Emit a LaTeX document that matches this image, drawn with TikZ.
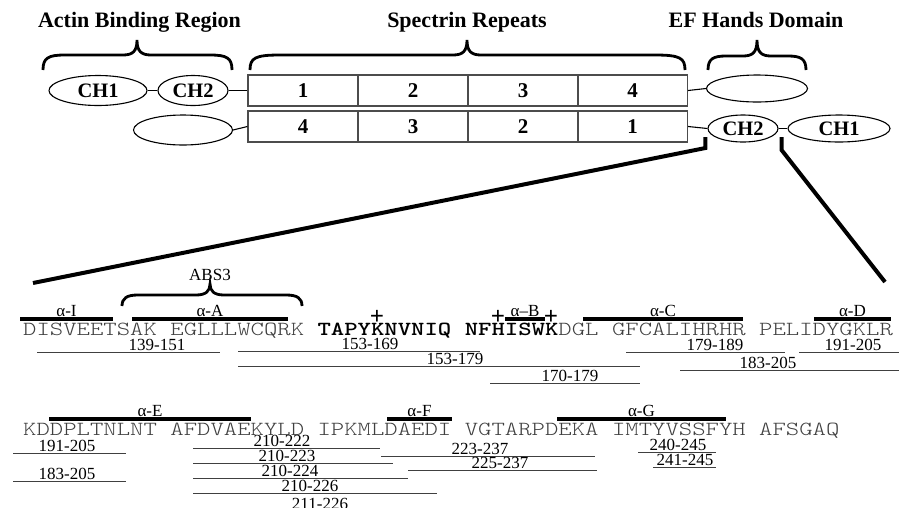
\documentclass[tikz,border=0pt]{standalone}
\usepackage{fontspec}
\setmainfont{Liberation Serif}
\newfontfamily\seqfont{lmmonolt10-regular.otf}[FakeStretch=1.274]
\newfontfamily\seqbold{lmmonolt10-bold.otf}[FakeStretch=1.274]
\usetikzlibrary{shapes.geometric}

% curly brace: x-left, x-right, x-tip, y-ends, y-run, y-tip, corner length
\newcommand{\curlybrace}[7]{%
  \draw[bracestroke] (#1,#4) .. controls (#1,{#5+3}) and ({#1+5},#5) .. ({#1+#7},#5)
    -- ({#3-14},#5) .. controls ({#3-4},#5) and (#3,{#5-4}) .. (#3,#6)
    .. controls (#3,{#5-4}) and ({#3+4},#5) .. ({#3+14},#5)
    -- ({#2-#7},#5) .. controls ({#2-5},#5) and (#2,{#5+3}) .. (#2,#4);}
% helix bar with its label: x-left, x-right, y, name, label
\newcommand{\helixbar}[5]{%
  \draw[helix] (#1,#3) -- (#2,#3);
  \node[helixlabel] (#4) at ({(#1+#2)/2},{#3-3}) {#5};}
% peptide fragment: x-left, x-right, y, x-label, name, label
\newcommand{\fragbar}[6]{%
  \draw[frag] (#1,#3) -- (#2,#3);
  \node[fraglabel] (#5) at (#4,{#3-2}) {#6};}

\tikzset{
  header/.style={font=\fontsize{22}{24}\selectfont\bfseries, inner sep=0, anchor=base},
  repeatbox/.style={draw=black!70, line width=1.2pt, minimum width=110pt,
    minimum height=31pt, inner sep=0, font=\fontsize{21}{22}\selectfont\bfseries},
  dom/.style={ellipse, draw, line width=1.1pt, inner sep=0,
    font=\fontsize{20.5}{22}\selectfont\bfseries},
  link/.style={line width=1.1pt},
  zoomline/.style={line width=4pt},
  bracestroke/.style={line width=2.8pt},
  helix/.style={line width=4pt},
  helixlabel/.style={font=\fontsize{17}{18}\selectfont, inner sep=0, anchor=base},
  frag/.style={line width=0.9pt, draw=black!75},
  fraglabel/.style={font=\fontsize{17}{18}\selectfont, inner sep=0, anchor=base},
  seq/.style={font=\seqfont\fontsize{20}{22}\selectfont, text=black!75,
    inner sep=0, anchor=base west},
  plus/.style={font=\fontsize{25}{25}\selectfont\bfseries, inner sep=0},
}

\begin{document}
\begin{tikzpicture}[x=1pt, y=-1pt]
\useasboundingbox (0,0) rectangle (899,507);

% ---- domain headers and braces
\node[header] (hab) at (139.5,27) {Actin Binding Region};
\node[header] (hsr) at (467,27) {Spectrin Repeats};
\node[header] (hef) at (756,27) {EF Hands Domain};
\curlybrace{43}{232}{137}{70}{55}{40}{22}
\curlybrace{250}{685}{467}{70}{55}{40}{30}
\curlybrace{708}{806}{757}{70}{56}{40}{18}

% ---- upper chain
\node[dom, minimum width=98pt, minimum height=30pt] (ch1a) at (98,90.5) {CH1};
\node[dom, minimum width=70pt, minimum height=30pt] (ch2a) at (193,90.5) {CH2};
\node[repeatbox] (r1a) at (303,90.5) {1};
\node[repeatbox] (r1b) at (413,90.5) {2};
\node[repeatbox] (r1c) at (523,90.5) {3};
\node[repeatbox] (r1d) at (632.5,90.5) {4};
\node[dom, minimum width=101pt, minimum height=27pt] (efa) at (757,88.5) {};

% ---- lower chain
\node[dom, minimum width=99pt, minimum height=30pt] (efb) at (183,130) {};
\node[repeatbox] (r2a) at (303,126.5) {4};
\node[repeatbox] (r2b) at (413,126.5) {3};
\node[repeatbox] (r2c) at (523,126.5) {2};
\node[repeatbox] (r2d) at (632.5,126.5) {1};
\node[dom, minimum width=70pt, minimum height=27pt] (ch2b) at (743,128.5) {CH2};
\node[dom, minimum width=102pt, minimum height=27pt] (ch1b) at (839,128.5) {CH1};

\draw[link] (ch1a) -- (ch2a);
\draw[link] (ch2a) -- (r1a);
\draw[link] (r1d.east) -- (efa.west);
\draw[link] (efb.east) -- (r2a.west);
\draw[link] (r2d.east) -- (ch2b.west);
\draw[link] (ch2b) -- (ch1b);

% ---- expansion lines down to the sequence
\coordinate (zl) at (33,283);
\coordinate (zr) at (885,282);
\draw[zoomline] (ch2b.west) ++(-2,8.5) -- ++(0,11) -- (zl);
\draw[zoomline] (ch2b.east) ++(3,8.5) -- ++(0,13) -- (zr);

% ---- sequence, first line
\node[seq] (s1a) at (23,335) {DISVEETSAK};
\node[seq] (s1b) at (170.2,335) {EGLLLWCQRK};
\node[seq, text=black] (s1c) at (317.4,335) {\seqbold TAPYKNVNIQ};
\node[seq] (s1d) at (464.6,335) {{\seqbold\color{black}NFHISWK}DGL};
\node[seq] (s1e) at (611.8,335) {GFCALIHRHR};
\node[seq] (s1f) at (759,335) {PELIDYGKLR};

% ABS3 brace
\curlybrace{122}{302}{210}{306}{295}{284}{16}
\node[fraglabel] (abs3) at (210,280.5) {ABS3};

\helixbar{20}{113}{319}{hI}{α-I}
\helixbar{132}{288}{319}{hA}{α-A}
\helixbar{505}{545}{319}{hB}{α–B}
\helixbar{583}{743}{319}{hC}{α-C}
\helixbar{814}{891}{319}{hD}{α-D}
\node[plus] (pl1) at (377,317) {+};
\node[plus] (pl2) at (498,317) {+};
\node[plus] (pl3) at (551,317) {+};

\fragbar{37}{220}{352.5}{157}{f1}{139-151}
\fragbar{238}{480}{351}{370}{f2}{153-169}
\fragbar{238}{640}{366}{455}{f3}{153-179}
\fragbar{490}{640}{383}{570}{f4}{170-179}
\fragbar{626}{785}{352}{715}{f5}{179-189}
\fragbar{799}{899}{352}{853}{f6}{191-205}
\fragbar{680}{899}{370.5}{768}{f7}{183-205}

% ---- sequence, second line
\node[seq] (s2a) at (23,435) {KDDPLTNLNT};
\node[seq] (s2b) at (170.2,435) {AFDVAEKYLD};
\node[seq] (s2c) at (317.4,435) {IPKMLDAEDI};
\node[seq] (s2d) at (464.6,435) {VGTARPDEKA};
\node[seq] (s2e) at (611.8,435) {IMTYVSSFYH};
\node[seq] (s2f) at (759,435) {AFSGAQ};

\helixbar{49}{251}{419}{hE}{α-E}
\helixbar{387}{452}{419}{hF}{α-F}
\helixbar{557}{726}{419}{hG}{α-G}

\fragbar{13}{126}{453}{67}{g1}{191-205}
\fragbar{13}{126}{481}{67}{g2}{183-205}
\fragbar{193}{380}{448}{282}{g3}{210-222}
\fragbar{193}{393}{463}{287}{g4}{210-223}
\fragbar{193}{408}{478}{290}{g5}{210-224}
\fragbar{193}{437}{493}{310}{g6}{210-226}
\node[fraglabel] (g7) at (320,509) {211-226};
\fragbar{381}{595}{456}{480}{g8}{223-237}
\fragbar{408}{597}{470}{500}{g9}{225-237}
\fragbar{638}{716}{452}{678}{g10}{240-245}
\fragbar{653}{716}{467}{685}{g11}{241-245}
\end{tikzpicture}
\end{document}
